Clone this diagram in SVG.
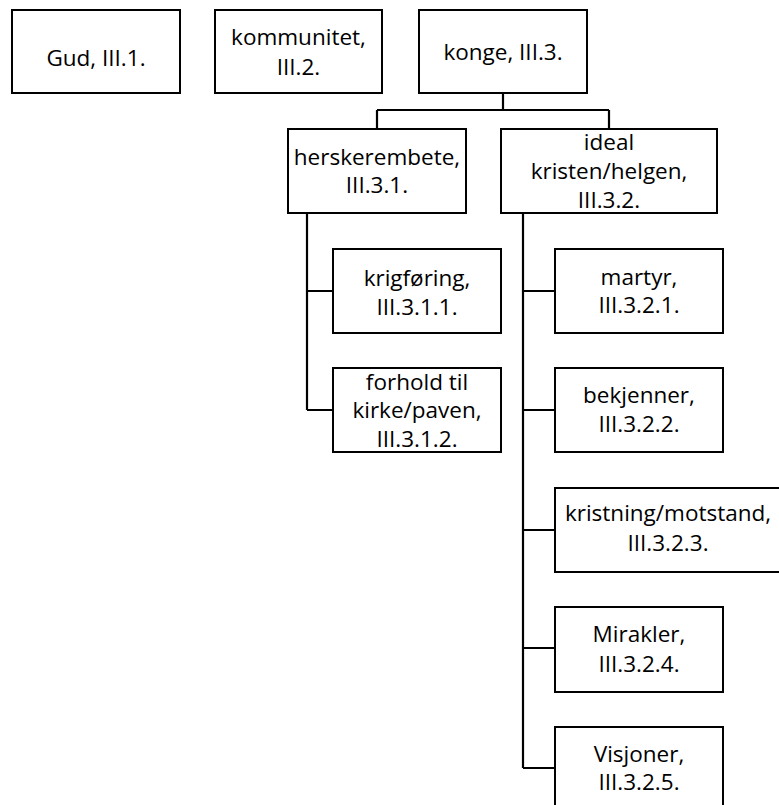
<svg xmlns="http://www.w3.org/2000/svg" width="779" height="805" viewBox="0 0 779 805">
<style>
.box{fill:#fff;stroke:#000;stroke-width:2}
.t{font-family:"Open Sans","Liberation Sans",sans-serif;font-size:22.5px;fill:#000;text-anchor:middle}
.c{fill:none;stroke:#000;stroke-width:2.2}
</style>
<rect width="779" height="805" fill="#fff"/>
<g id="connectors">
<path class="c" d="M503,93 V110 M377,110 H609 M377,110 V129 M609,110 V129"/>
<path class="c" d="M307,213 V410 M307,291 H333 M307,410 H333"/>
<path class="c" d="M523,213 V768 M523,291 H555 M523,410 H555 M523,530 H555 M523,648 H555 M523,768 H555"/>
</g>
<g id="gud"><rect class="box" x="12" y="10" width="168" height="83"/><text class="t" x="96" y="66">Gud, III.1.</text></g>
<g id="kommunitet"><rect class="box" x="215" y="10" width="167" height="83"/><text class="t" x="298.5" y="45">kommunitet,</text><text class="t" x="298.5" y="75">III.2.</text></g>
<g id="konge"><rect class="box" x="419" y="10" width="168" height="83"/><text class="t" x="503" y="60">konge, III.3.</text></g>
<g id="herskerembete"><rect class="box" x="288" y="129" width="178" height="84"/><text class="t" x="377" y="165">herskerembete,</text><text class="t" x="377" y="193">III.3.1.</text></g>
<g id="ideal"><rect class="box" x="501" y="129" width="216" height="84"/><text class="t" x="609" y="150">ideal</text><text class="t" x="609" y="179">kristen/helgen,</text><text class="t" x="609" y="208">III.3.2.</text></g>
<g id="krigforing"><rect class="box" x="333" y="249" width="168" height="84"/><text class="t" x="417" y="286">krigføring,</text><text class="t" x="417" y="315">III.3.1.1.</text></g>
<g id="forhold"><rect class="box" x="333" y="368" width="168" height="84"/><text class="t" x="417" y="390">forhold til</text><text class="t" x="417" y="418">kirke/paven,</text><text class="t" x="417" y="447">III.3.1.2.</text></g>
<g id="martyr"><rect class="box" x="555" y="249" width="168" height="84"/><text class="t" x="639" y="285">martyr,</text><text class="t" x="639" y="313">III.3.2.1.</text></g>
<g id="bekjenner"><rect class="box" x="555" y="368" width="168" height="84"/><text class="t" x="639" y="403">bekjenner,</text><text class="t" x="639" y="432">III.3.2.2.</text></g>
<g id="kristning"><rect class="box" x="555" y="488" width="226" height="84"/><text class="t" x="668" y="521">kristning/motstand,</text><text class="t" x="668" y="551">III.3.2.3.</text></g>
<g id="mirakler"><rect class="box" x="555" y="607" width="168" height="85"/><text class="t" x="639" y="642">Mirakler,</text><text class="t" x="639" y="672">III.3.2.4.</text></g>
<g id="visjoner"><rect class="box" x="555" y="727" width="168" height="85"/><text class="t" x="639" y="762">Visjoner,</text><text class="t" x="639" y="790">III.3.2.5.</text></g>
</svg>
